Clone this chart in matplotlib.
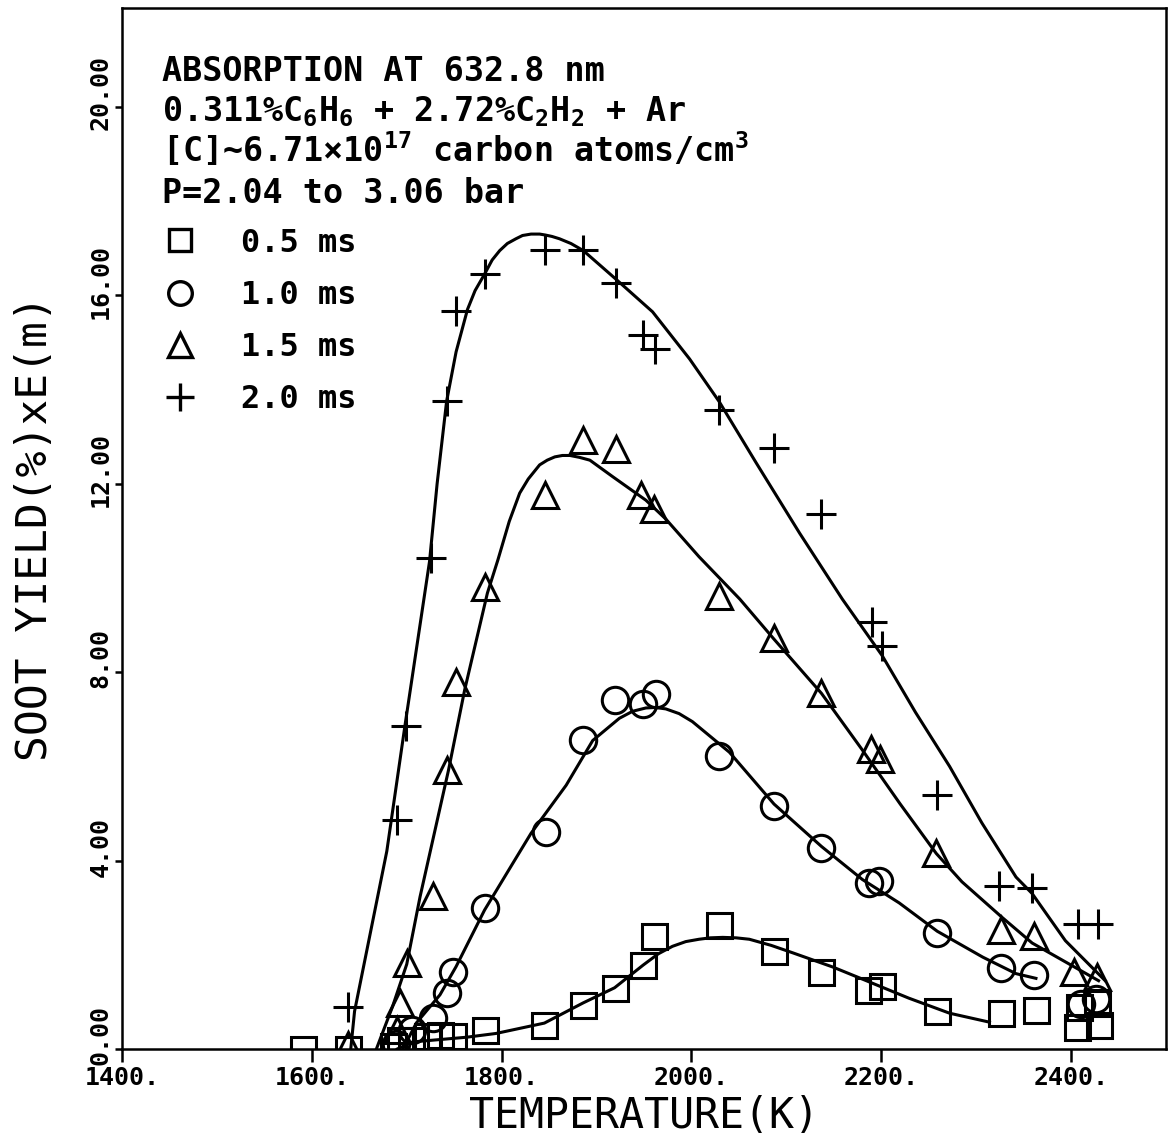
import matplotlib
matplotlib.use("Agg")
import matplotlib.pyplot as plt
from matplotlib.lines import Line2D
from matplotlib.transforms import ScaledTranslation

plt.rcParams['font.family'] = ['DejaVu Sans Mono', 'DejaVu Sans']
plt.rcParams['mathtext.default'] = 'regular'

# measured points (temperature K, soot yield % x E(m))
t_05 = [1591, 1638, 1686, 1693, 1705, 1721, 1735, 1749, 1782, 1845, 1886, 1919, 1949, 1961,
        2029, 2087, 2137, 2186, 2201, 2259, 2326, 2363, 2406, 2408, 2427, 2429]
y_05 = [0.0, 0.0, 0.06, 0.2, 0.2, 0.28, 0.3, 0.28, 0.4, 0.5, 0.93, 1.3, 1.78, 2.4,
        2.63, 2.08, 1.64, 1.25, 1.33, 0.8, 0.76, 0.83, 0.47, 0.9, 0.97, 0.5]

t_10 = [1689, 1706, 1728, 1742, 1749, 1782, 1847, 1886, 1919, 1949, 1963, 2029, 2087,
        2137, 2187, 2198, 2259, 2326, 2361, 2411, 2426]
y_10 = [0.1, 0.4, 0.65, 1.18, 1.64, 3.0, 4.6, 6.57, 7.4, 7.32, 7.53, 6.22, 5.16,
        4.26, 3.53, 3.56, 2.46, 1.71, 1.57, 0.95, 1.06]

t_15 = [1638, 1690, 1693, 1700, 1728, 1742, 1752, 1782, 1846, 1886, 1920, 1947, 1961,
        2029, 2087, 2137, 2189, 2199, 2258, 2326, 2361, 2403, 2427]
y_15 = [0.08, 0.4, 0.97, 1.82, 3.24, 5.93, 7.8, 9.8, 11.76, 12.92, 12.73, 11.76, 11.46,
        9.62, 8.73, 7.56, 6.36, 6.16, 4.16, 2.53, 2.39, 1.64, 1.53]

t_20 = [1638, 1690, 1699, 1726, 1742, 1752, 1782, 1846, 1886, 1920, 1949, 1962, 2029,
        2087, 2137, 2190, 2201, 2259, 2324, 2359, 2407, 2428]
y_20 = [0.9, 4.86, 6.86, 10.42, 13.76, 15.66, 16.46, 16.96, 16.96, 16.26, 15.16, 14.86, 13.56,
        12.76, 11.36, 9.06, 8.56, 5.4, 3.46, 3.42, 2.66, 2.66]

# fitted curves
ct_05 = [1690, 1706, 1763, 1794, 1845, 1886, 1919, 1949, 1965, 1980, 1994, 2008, 2020,
         2033, 2047, 2061, 2084, 2107, 2149, 2177, 2229, 2272, 2314]
cy_05 = [0.0, 0.15, 0.25, 0.33, 0.55, 0.98, 1.3, 1.78, 2.02, 2.18, 2.28, 2.33, 2.36,
         2.37, 2.36, 2.33, 2.2, 2.04, 1.74, 1.51, 1.08, 0.76, 0.57]

ct_10 = [1696, 1710, 1735, 1752, 1782, 1812, 1831, 1868, 1896, 1924, 1938, 1952, 1962,
         1973, 1987, 2001, 2040, 2087, 2137, 2180, 2219, 2259, 2307, 2342, 2363]
cy_10 = [0.0, 0.55, 1.15, 1.75, 2.95, 3.95, 4.58, 5.6, 6.55, 7.02, 7.17, 7.24, 7.25,
         7.22, 7.12, 6.95, 6.3, 5.2, 4.3, 3.6, 3.1, 2.5, 1.95, 1.6, 1.5]

ct_15 = [1668, 1685, 1700, 1714, 1744, 1761, 1785, 1796, 1808, 1819, 1828, 1840, 1848,
         1856, 1864, 1872, 1882, 1893, 1917, 1952, 1973, 2008, 2051, 2087, 2137, 2180,
         2220, 2258, 2285, 2327, 2359, 2429]
cy_15 = [0.0, 0.9, 1.8, 3.23, 5.92, 7.62, 9.68, 10.38, 11.2, 11.8, 12.1, 12.4, 12.5,
         12.57, 12.6, 12.6, 12.56, 12.5, 12.15, 11.65, 11.25, 10.45, 9.55, 8.7, 7.55, 6.35,
         5.2, 4.15, 3.55, 2.8, 2.25, 1.45]

ct_20 = [1641, 1645, 1662, 1679, 1698, 1724, 1732, 1742, 1752, 1764, 1772, 1782, 1790,
         1798, 1806, 1815, 1822, 1831, 1840, 1846, 1853, 1861, 1873, 1886, 1920, 1959,
         1998, 2029, 2068, 2114, 2159, 2201, 2236, 2272, 2306, 2342, 2359, 2394, 2436]
cy_20 = [0.0, 0.8, 2.5, 4.2, 6.85, 10.35, 12.0, 13.75, 14.8, 15.7, 16.1, 16.45, 16.75,
         16.95, 17.1, 17.2, 17.27, 17.3, 17.3, 17.28, 17.25, 17.2, 17.1, 16.95, 16.35, 15.65,
         14.65, 13.75, 12.45, 10.95, 9.55, 8.35, 7.15, 6.0, 4.8, 3.65, 3.3, 2.3, 1.45]

labels = ['0.5 ms', '1.0 ms', '1.5 ms', '2.0 ms']
markers = ['s', 'o', '^', '+']
sizes = [18, 19, 19, 22]
x_ticks = [1400, 1600, 1800, 2000, 2200, 2400]
y_ticks = [0, 4, 8, 12, 16, 20]
notes = ['ABSORPTION AT 632.8 nm',
         '0.311%C$_6$H$_6$ + 2.72%C$_2$H$_2$ + Ar',
         '[C]~6.71×10$^{17}$ carbon atoms/cm$^3$',
         'P=2.04 to 3.06 bar']

fig = plt.figure(figsize=(11.69, 11.38), dpi=100)
ax = fig.add_axes([0.1044, 0.0782, 0.893, 0.9148])

series = [(t_05, y_05, ct_05, cy_05), (t_10, y_10, ct_10, cy_10),
          (t_15, y_15, ct_15, cy_15), (t_20, y_20, ct_20, cy_20)]
handles = []
for (t, y, ct, cy), m, s in zip(series, markers, sizes):
    ax.plot(ct, cy, color='black', lw=2.2, zorder=2)
    ax.plot(t, y, ls='none', marker=m, mfc='none', mec='black', ms=s, mew=2.2, zorder=3)
    handles.append(Line2D([], [], ls='none', marker=m, mfc='none', mec='black', ms=s - 2, mew=2.4))

ax.set_xlim(1400, 2500)
ax.set_ylim(0, 22.1)
ax.set_xticks(x_ticks)
ax.set_xticklabels([f'{v}.' for v in x_ticks], fontsize=18, fontweight='bold')
ax.set_yticks(y_ticks)
ax.set_yticklabels([f'{v:.2f}' for v in y_ticks], fontsize=18, fontweight='bold')
ax.tick_params(axis='x', direction='out', length=9.5, width=1.8, pad=3)
ax.tick_params(axis='y', direction='out', length=5, width=1.8, pad=2, labelrotation=90)
shift = ScaledTranslation(0, 14 / 100, fig.dpi_scale_trans)
for lab in ax.get_yticklabels():
    lab.set_va('center')
    lab.set_transform(lab.get_transform() + shift)
for sp in ax.spines.values():
    sp.set_linewidth(1.8)

ax.set_xlabel('TEMPERATURE(K)', fontsize=30, va='center')
ax.xaxis.set_label_coords(0.5, -0.064)
ax.set_ylabel('SOOT YIELD(%)xE(m)', fontsize=31, va='center')
ax.yaxis.set_label_coords(-0.083, 0.5)

for i, txt in enumerate(notes):
    ax.text(0.0383, 0.9300 - i * 0.0392, txt, transform=ax.transAxes, fontsize=24,
            fontweight='bold', ha='left', va='baseline')

ax.legend(handles, labels, loc='upper left', bbox_to_anchor=(0.0402, 0.789), frameon=False,
          borderpad=0, borderaxespad=0, handlelength=1.0, handletextpad=1.4,
          labelspacing=0.66, prop={'size': 23, 'weight': 'bold'})

fig.savefig('out.png', dpi=100)
